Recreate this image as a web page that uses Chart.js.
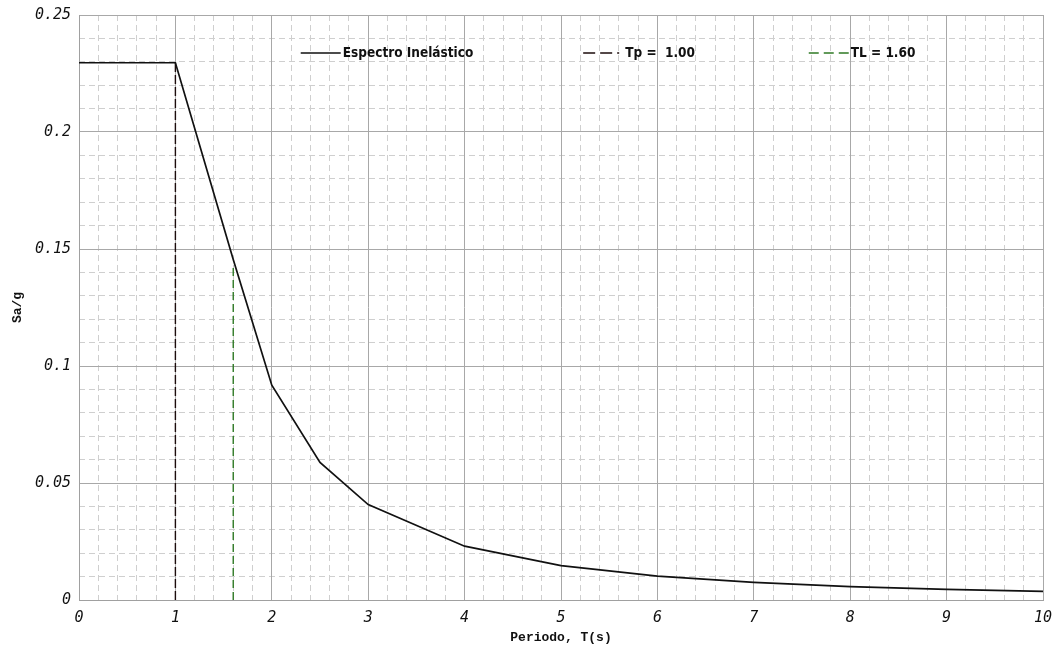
<!DOCTYPE html>
<html>
<head>
<meta charset="utf-8">
<script src="https://cdn.jsdelivr.net/npm/chart.js@4.4.1/dist/chart.umd.min.js"></script>
<style>
  html, body { margin: 0; padding: 0; background: #ffffff; }
  #wrap { width: 1058px; height: 647px; position: relative; }
</style>
</head>
<body>
<div id="wrap"><canvas id="c" width="1058" height="647"></canvas></div>
<script>
// ---- data ----
const periods   = [0, 1, 1.6, 2, 2.5, 3, 4, 5, 6, 7, 8, 9, 10];
const saValues  = [0.2296, 0.2296, 0.1455, 0.0918, 0.0588, 0.0408, 0.0230, 0.0147, 0.0102, 0.0075, 0.0057, 0.0045, 0.0037];
const tpLineX   = [1.0, 1.0];
const tpLineY   = [0, 0.2296];
const tlLineX   = [1.6, 1.6];
const tlLineY   = [0, 0.1435];
const seriesLabels = ['Espectro Inelástico', 'Tp =  1.00', 'TL = 1.60'];
const xTickValues = [0, 1, 2, 3, 4, 5, 6, 7, 8, 9, 10];
const yTickValues = [0, 0.05, 0.1, 0.15, 0.2, 0.25];
const xTitle = 'Periodo, T(s)';
const yTitle = 'Sa/g';

const toPts = (xs, ys) => xs.map((x, i) => ({ x: x, y: ys[i] }));

const tickFont = { family: '"DejaVu Sans Mono", monospace', size: 15, style: 'italic' };
const titleFont = { family: '"Liberation Mono", "DejaVu Sans Mono", monospace', size: 13, weight: 'bold' };
const legendFont = 'bold 13.5px "Liberation Sans Narrow", "DejaVu Sans Condensed", "Roboto", sans-serif';

const isMajor = (v, step) => Math.abs(v / step - Math.round(v / step)) < 1e-6;

const overlayLegend = {
  id: 'overlayLegend',
  afterDraw(chart) {
    const ctx = chart.ctx;
    const a = chart.chartArea;
    const w = a.right - a.left;
    const y = a.top + 38;
    const starts = [0.230, 0.523, 0.757];
    const sampleLen = 40;
    ctx.save();
    ctx.font = legendFont;
    ctx.textBaseline = 'middle';
    ctx.textAlign = 'left';
    chart.data.datasets.forEach((ds, i) => {
      const x0 = a.left + starts[i] * w;
      ctx.beginPath();
      ctx.strokeStyle = ds.borderColor;
      ctx.lineWidth = 1.5;
      ctx.setLineDash(ds.legendDash || []);
      ctx.moveTo(x0, y);
      ctx.lineTo(x0 + sampleLen, y);
      ctx.stroke();
      ctx.setLineDash([]);
      ctx.fillStyle = '#111111';
      ctx.fillText(ds.label, x0 + sampleLen + 2, y);
    });
    ctx.restore();
  }
};

function noPad(s) { s.paddingLeft = 0; s.paddingRight = 0; s.paddingTop = 0; s.paddingBottom = 0; }

new Chart(document.getElementById('c'), {
  type: 'scatter',
  data: {
    datasets: [
      {
        label: seriesLabels[0],
        data: toPts(periods, saValues),
        showLine: true,
        borderColor: '#111111',
        borderWidth: 1.7,
        pointRadius: 0,
        tension: 0,
        legendDash: []
      },
      {
        label: seriesLabels[1],
        data: toPts(tpLineX, tpLineY),
        showLine: true,
        borderColor: '#1c0c0c',
        borderWidth: 1.4,
        borderDash: [9, 3],
        pointRadius: 0,
        legendDash: [12, 5, 12, 5, 2, 10]
      },
      {
        label: seriesLabels[2],
        data: toPts(tlLineX, tlLineY),
        showLine: true,
        borderColor: '#2f7a25',
        borderWidth: 1.4,
        borderDash: [8, 4],
        pointRadius: 0,
        legendDash: [10, 5]
      }
    ]
  },
  options: {
    responsive: false,
    animation: false,
    devicePixelRatio: 1,
    layout: { padding: { left: 0, right: 15, top: 15, bottom: 0 } },
    plugins: { legend: { display: false }, tooltip: { enabled: false } },
    scales: {
      xMinor: {
        type: 'linear', position: 'bottom', min: 0, max: 10, z: -1,
        ticks: { display: false, stepSize: 0.2 },
        grid: { drawTicks: false, color: c => isMajor(c.tick.value, 1) ? 'rgba(0,0,0,0)' : '#cfcfcf', lineWidth: 1 },
        border: { display: false, dash: [6, 4] },
        afterFit(s) { s.height = 0; noPad(s); }
      },
      yMinor: {
        type: 'linear', position: 'left', min: 0, max: 0.25, z: -1,
        ticks: { display: false, stepSize: 0.01 },
        grid: { drawTicks: false, color: c => isMajor(c.tick.value, 0.05) ? 'rgba(0,0,0,0)' : '#cfcfcf', lineWidth: 1 },
        border: { display: false, dash: [6, 4] },
        afterFit(s) { s.width = 0; noPad(s); }
      },
      x: {
        type: 'linear', position: 'bottom', min: 0, max: 10,
        afterBuildTicks(s) { s.ticks = xTickValues.map(v => ({ value: v })); },
        ticks: { font: tickFont, color: '#111111', padding: 9, maxRotation: 0, autoSkip: false,
                 callback: v => String(v) },
        grid: { drawTicks: false, color: '#a8a8a8', lineWidth: 1 },
        border: { display: true, color: '#a0a0a0' },
        title: { display: true, text: xTitle, font: titleFont, color: '#111111', padding: { top: 0, bottom: 1 } },
        afterFit(s) { s.height = 47; noPad(s); }
      },
      y: {
        type: 'linear', position: 'left', min: 0, max: 0.25,
        afterBuildTicks(s) { s.ticks = yTickValues.map(v => ({ value: v })); },
        ticks: { font: tickFont, color: '#111111', padding: 8, autoSkip: false,
                 callback: v => String(Math.round(v * 100) / 100) },
        grid: { drawTicks: false, color: '#a8a8a8', lineWidth: 1 },
        border: { display: true, color: '#a0a0a0' },
        title: { display: true, text: yTitle, font: titleFont, color: '#111111', padding: { top: 10, bottom: 0 } },
        afterFit(s) { s.width = 79; noPad(s); }
      }
    }
  },
  plugins: [overlayLegend]
});
</script>
</body>
</html>
